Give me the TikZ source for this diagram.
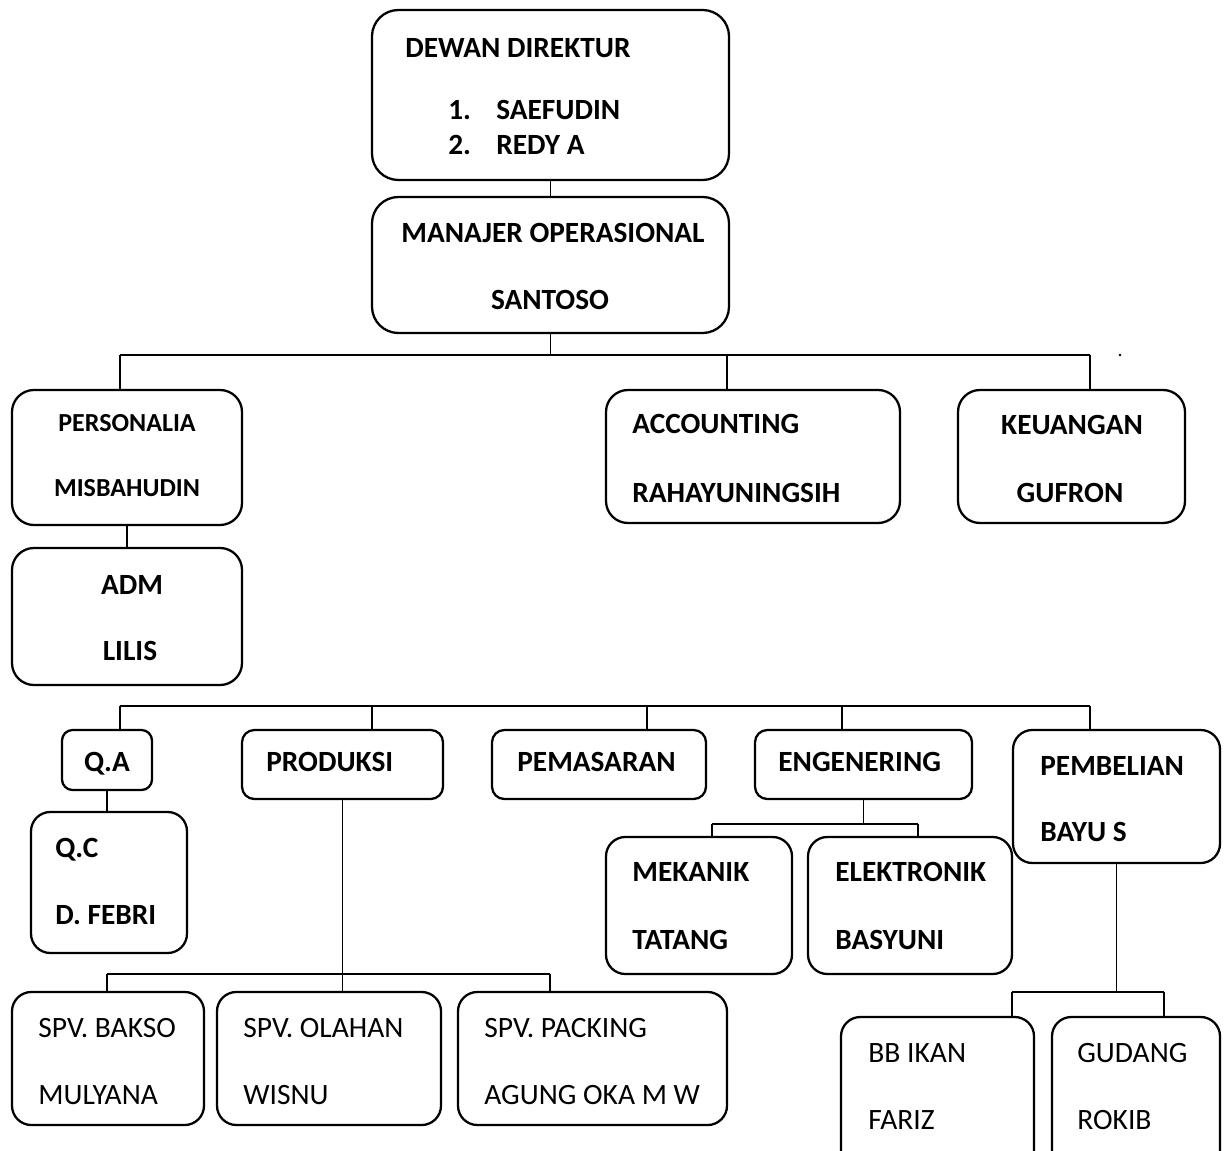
\documentclass[tikz,border=0pt]{standalone}
\usepackage{fontspec}
\setmainfont{Carlito}
\usepackage{tikz}
\usetikzlibrary{fit,positioning}

\begin{document}
\begin{tikzpicture}[x=0.02cm,y=-0.02cm,
  box/.style={draw, line width=1.3pt, rounded corners=#1, inner sep=0pt},
  box/.default=11pt,
  conn/.style={line width=1.1pt},
  lbl/.style={font=\bfseries\fontsize{16.7}{19}\selectfont, inner sep=0pt, text height=10.8pt, text depth=0pt},
  lbls/.style={font=\bfseries\fontsize{14.8}{17}\selectfont, inner sep=0pt, text height=9.5pt, text depth=0pt},
  lblr/.style={font=\fontsize{16.8}{19}\selectfont, inner sep=0pt, text height=10.8pt, text depth=0pt}]
\useasboundingbox (0,0) rectangle (1229,1151);
\clip (0,0) rectangle (1229,1151);

\node[box=15pt, fit={(372,10) (729,180)}] (dewan) {};
\node[box=15pt, fit={(372,197) (729,333)}] (manajer) {};
\node[box=12.5pt, fit={(12,390) (242,525)}] (pers) {};
\node[box=12.5pt, fit={(12,548) (242,685)}] (adm) {};
\node[box=12.5pt, fit={(606,390) (900,523)}] (acc) {};
\node[box=12.5pt, fit={(958,390) (1185,523)}] (keu) {};
\node[box=6pt, fit={(62,730) (152,790)}] (qa) {};
\node[box, fit={(31,812) (187,953)}] (qc) {};
\node[box=7pt, fit={(242,730) (443,799)}] (prod) {};
\node[box=7pt, fit={(492,730) (706,799)}] (pemas) {};
\node[box=7pt, fit={(755,730) (972,799)}] (eng) {};
\node[box, fit={(1013,730) (1220,863)}] (pemb) {};
\node[box, fit={(606,837) (792,974)}] (mek) {};
\node[box, fit={(808,837) (1012,974)}] (elek) {};
\node[box, fit={(12,992) (204,1125)}] (bakso) {};
\node[box, fit={(217,992) (441,1125)}] (olahan) {};
\node[box, fit={(458,992) (727,1125)}] (packing) {};
\node[box, fit={(841,1017) (1034,1175)}] (bbikan) {};
\node[box, fit={(1052,1017) (1220,1175)}] (gudang) {};

\node[lbl, anchor=west] (dewanA) at (405,48) {DEWAN DIREKTUR};
\node[lbl, anchor=west] (dewanB) at (448,110) {1.};
\node[lbl, anchor=west] (dewanC) at (496,110) {SAEFUDIN};
\node[lbl, anchor=west] (dewanD) at (448,145) {2.};
\node[lbl, anchor=west] (dewanE) at (496,145) {REDY A};
\node[lbl] (manajerA) at (553,233) {MANAJER OPERASIONAL};
\node[lbl] (manajerB) at (550,300) {SANTOSO};
\node[lbls] (persA) at (127,423) {PERSONALIA};
\node[lbls] (persB) at (127,488) {MISBAHUDIN};
\node[lbl] (admA) at (132,585) {ADM};
\node[lbl] (admB) at (130,651) {LILIS};
\node[lbl, anchor=west] (accA) at (632,424) {ACCOUNTING};
\node[lbl, anchor=west] (accB) at (632,493) {RAHAYUNINGSIH};
\node[lbl] (keuA) at (1072,425) {KEUANGAN};
\node[lbl] (keuB) at (1070,493) {GUFRON};
\node[lbl] (qaA) at (107,762) {Q.A};
\node[lbl, anchor=west] (qcA) at (55,848) {Q.C};
\node[lbl, anchor=west] (qcB) at (55,915) {D. FEBRI};
\node[lbl, anchor=west] (prodA) at (266,762) {PRODUKSI};
\node[lbl, anchor=west] (pemasA) at (517,762) {PEMASARAN};
\node[lbl, anchor=west] (engA) at (778,762) {ENGENERING};
\node[lbl, anchor=west] (pembA) at (1040,766) {PEMBELIAN};
\node[lbl, anchor=west] (pembB) at (1040,832) {BAYU S};
\node[lbl, anchor=west] (mekA) at (632,872) {MEKANIK};
\node[lbl, anchor=west] (mekB) at (632,940) {TATANG};
\node[lbl, anchor=west] (elekA) at (835,872) {ELEKTRONIK};
\node[lbl, anchor=west] (elekB) at (835,940) {BASYUNI};
\node[lblr, anchor=west] (baksoA) at (38,1028) {SPV. BAKSO};
\node[lblr, anchor=west] (baksoB) at (38,1095) {MULYANA};
\node[lblr, anchor=west] (olahanA) at (243,1028) {SPV. OLAHAN};
\node[lblr, anchor=west] (olahanB) at (243,1095) {WISNU};
\node[lblr, anchor=west] (packingA) at (484,1028) {SPV. PACKING};
\node[lblr, anchor=west] (packingB) at (484,1095) {AGUNG OKA M W};
\node[lblr, anchor=west] (bbikanA) at (868,1053) {BB IKAN};
\node[lblr, anchor=west] (bbikanB) at (868,1120) {FARIZ};
\node[lblr, anchor=west] (gudangA) at (1077,1053) {GUDANG};
\node[lblr, anchor=west] (gudangB) at (1077,1120) {ROKIB};

\coordinate (busAL) at (120,355);
\coordinate (busAM) at (727,355);
\coordinate (busAR) at (1090,355);
\coordinate (busBL) at (120,706);
\coordinate (busBP) at (372,706);
\coordinate (busBM) at (647,706);
\coordinate (busBE) at (842,706);
\coordinate (busBR) at (1090,706);
\coordinate (busCL) at (107,974);
\coordinate (busCR) at (550,974);
\coordinate (busDL) at (712,824);
\coordinate (busDR) at (918,824);
\coordinate (busEL) at (1012,992);
\coordinate (busER) at (1164,992);

\draw[conn] (dewan.south) -- (manajer.north);
\draw[conn] (manajer.south) -- (manajer.south |- busAL);
\draw[conn] (busAL) -- (busAR);
\draw[conn] (busAL) -- (busAL |- pers.north);
\draw[conn] (busAM) -- (busAM |- acc.north);
\draw[conn] (busAR) -- (busAR |- keu.north);
\draw[conn] (pers.south) -- (adm.north);

\draw[conn] (busBL) -- (busBR);
\draw[conn] (busBL) -- (busBL |- qa.north);
\draw[conn] (busBP) -- (busBP |- prod.north);
\draw[conn] (busBM) -- (busBM |- pemas.north);
\draw[conn] (busBE) -- (busBE |- eng.north);
\draw[conn] (busBR) -- (busBR |- pemb.north);
\draw[conn] (qa.south) -- (qa.south |- qc.north);

\draw[conn] (prod.south) -- (prod.south |- olahan.north);
\draw[conn] (busCL) -- (busCR);
\draw[conn] (busCL) -- (busCL |- bakso.north);
\draw[conn] (busCR) -- (busCR |- packing.north);

\draw[conn] (eng.south) -- (eng.south |- busDL);
\draw[conn] (busDL) -- (busDR);
\draw[conn] (busDL) -- (busDL |- mek.north);
\draw[conn] (busDR) -- (busDR |- elek.north);

\draw[conn] (pemb.south) -- (pemb.south |- busEL);
\draw[conn] (busEL) -- (busER);
\draw[conn] (busEL) -- (busEL |- bbikan.north);
\draw[conn] (busER) -- (busER |- gudang.north);

\fill (1120,355) circle (0.8pt);
\end{tikzpicture}
\end{document}
